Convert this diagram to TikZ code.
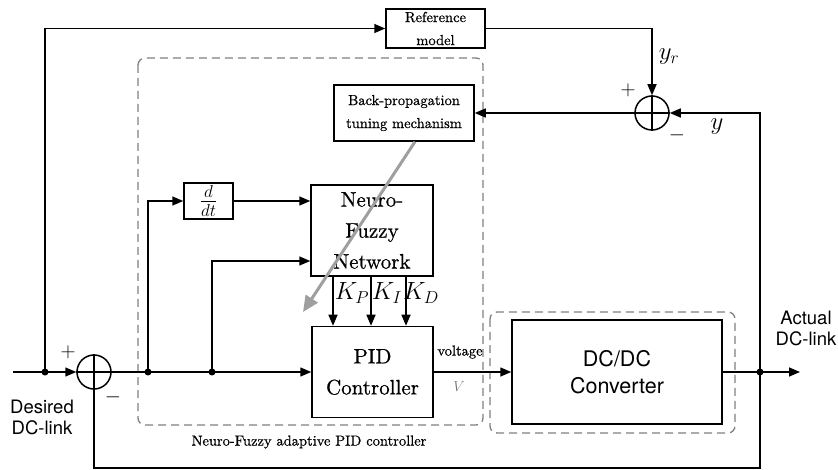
\documentclass[tikz,border=0pt]{standalone}
\usepackage{fontspec}
\setmainfont{lmroman10-regular.otf}[FakeBold=0.6,BoldFont=lmroman10-bold.otf,ItalicFont=lmroman10-italic.otf]
\newfontfamily\hv{TeX Gyre Heros}
\usetikzlibrary{arrows.meta}
\begin{document}
\begin{tikzpicture}[x=1pt,y=-1pt,
  blk/.style={draw,line width=1.5pt,inner sep=0pt,align=center},
  ln/.style={line width=1.5pt},
  arr/.style={ln,-{Triangle[length=11pt,width=9pt]}},
  sumc/.style={draw,circle,line width=1.5pt,minimum size=34pt,inner sep=0pt},
  dot/.style={circle,fill,inner sep=0pt,minimum size=7pt},
  dbox/.style={draw=gray,dash pattern=on 8pt off 5pt,line width=1.3pt,rounded corners=7pt},
  sml/.style={font=\fontsize{14.5}{23}\selectfont},
  big/.style={font=\fontsize{21}{31}\selectfont},
  sgn/.style={font=\fontsize{22}{24}\selectfont},
  mth/.style={font=\fontsize{23}{24}\selectfont},
  hvf/.style={font=\hv\fontsize{18.5}{21}\selectfont,align=center},
]
\useasboundingbox (0,0) rectangle (838,470);
% dashed groups
\draw[dbox] (138,58) rectangle (483,425);
\draw[dbox] (490,312) rectangle (735,433);
% blocks
\node[blk,sml,minimum width=99pt,minimum height=39pt] (ref) at (435.5,28.5) {Reference\\model};
\node[blk,sml,minimum width=140pt,minimum height=56pt] (bp) at (404,113) {Back-propagation\\tuning mechanism};
\node[blk,minimum width=49pt,minimum height=36pt,font=\fontsize{24}{26}\selectfont] (ddt) at (208.5,201) {$\frac{d}{dt}$};
\node[blk,big,minimum width=122pt,minimum height=91pt] (nf) at (372,230.5) {Neuro-\\Fuzzy\\Network};
\node[blk,big,minimum width=121pt,minimum height=91pt] (pid) at (372.5,372) {PID\\Controller};
\node[blk,font=\hv\fontsize{21.5}{27}\selectfont,minimum width=210pt,minimum height=104pt] (dc) at (617,372) {DC/DC\\Converter};
% summing junctions
\node[sumc] (s1) at (94,372) {};
\draw[ln] (s1.north) -- (s1.south) (s1.west) -- (s1.east);
\node[sumc] (s2) at (652,113) {};
\draw[ln] (s2.north) -- (s2.south) (s2.west) -- (s2.east);
% points
\coordinate (in) at (13,372);
\node[dot] (b0) at (45,372) {};
\node[dot] (d1) at (148,372) {};
\node[dot] (d2) at (212,372) {};
\node[dot] (d3) at (760,372) {};
\coordinate (out) at (800,372);
\coordinate (fb) at (760,468);
\coordinate (gtip) at (303,312);
% connectors
\draw[arr] (in) -- (s1.west);
\draw[arr] (b0.center) |- (ref.west);
\draw[arr] (s1.east) -- (pid.west);
\draw[arr] (d1.center) |- (ddt.west);
\draw[arr] (ddt.east) -- (ddt.east -| nf.west);
\draw[arr] (d2.center) |- ([yshift=-30.5pt]nf.west);
\draw[arr] ([xshift=-39pt]nf.south) -- ([xshift=-39pt]nf.south |- pid.north);
\draw[arr] ([xshift=-1pt]nf.south) -- ([xshift=-1pt]nf.south |- pid.north);
\draw[arr] ([xshift=34pt]nf.south) -- ([xshift=34pt]nf.south |- pid.north);
\draw[arr] (pid.east) -- (pid.east -| dc.west);
\draw[ln] (dc.east) -- (d3.center);
\draw[arr] (d3.center) -- (out);
\draw[arr] (d3.center) |- (s2.east);
\draw[ln] (d3.center) -- (fb) -| (s1.south);
\draw[arr] (ref.east) -| (s2.north);
\draw[arr] (s2.west) -- (s2.west -| bp.east);
\draw[line width=3pt,gray!75,-{Triangle[length=16pt,width=14pt]}] ([xshift=11pt]bp.south) -- (gtip);
% labels
\node[mth] at (352,293) {$K_P$};
\node[mth] at (387,293) {$K_I$};
\node[mth] at (421,293) {$K_D$};
\node[sgn] at (68,352) {$+$};
\node[sgn] at (113,397) {$-$};
\node[sgn] at (628,90) {$+$};
\node[sgn] at (677,135) {$-$};
\node[mth] at (669,57) {$y_r$};
\node[mth] at (717,127) {$y$};
\node[sml] at (460,352) {voltage};
\node[font=\fontsize{14}{15}\selectfont,text=black!55] at (459,387) {$V$};
\node[sml] at (309,442) {Neuro-Fuzzy adaptive PID controller};
\node[hvf] at (42,417) {Desired\\DC-link};
\node[hvf] at (806,328) {Actual\\DC-link};
\end{tikzpicture}
\end{document}
